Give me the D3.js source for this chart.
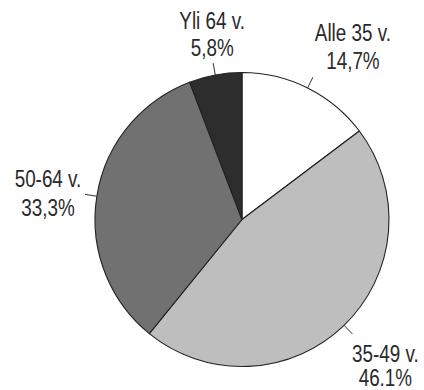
<!DOCTYPE html>
<html>
<head>
<meta charset="utf-8">
<script src="https://cdn.jsdelivr.net/npm/d3@7"></script>
<style>
  html, body { margin: 0; padding: 0; background: #fff; }
  svg { display: block; }
  text { font-family: "Liberation Sans", Arial, sans-serif; fill: #2a2a2a; }
</style>
</head>
<body>
<svg id="chart" width="424" height="390"></svg>
<script>
// Age groups and their shares (%), clockwise from 12 o'clock
const groups = ["Alle 35 v.", "35-49 v.", "50-64 v.", "Yli 64 v."];
const shares = [14.7, 46.1, 33.3, 5.8];
const shareLabels = ["14,7%", "46.1%", "33,3%", "5,8%"];

// Halftone-like fills: [dot colour, paper colour]
const tones = [
  ["#ffffff", "#ffffff"],
  ["#a4a4a4", "#d8d8d8"],
  ["#4e4e4e", "#949494"],
  ["#1e1e1e", "#3c3c3c"]
];

// Label placement relative to the end of each leader tick
const labelLayout = [
  { dx: 40, dy: -36, gap: 28 },
  { dx: 33, dy: 28, gap: 24 },
  { dx: -37, dy: -7, gap: 29 },
  { dx: -1, dy: -34, gap: 27 }
];

const svg = d3.select("#chart");
const cx = 242, cy = 219.5, R = 147;

// checkerboard patterns that imitate printed screening
const defs = svg.append("defs");
tones.forEach((t, i) => {
  const p = defs.append("pattern")
    .attr("id", "tone" + i)
    .attr("patternUnits", "userSpaceOnUse")
    .attr("width", 2).attr("height", 2);
  p.append("rect").attr("width", 2).attr("height", 2).attr("fill", t[1]);
  p.append("rect").attr("width", 1).attr("height", 1).attr("fill", t[0]);
  p.append("rect").attr("x", 1).attr("y", 1).attr("width", 1).attr("height", 1).attr("fill", t[0]);
});

const pie = d3.pie().sort(null).value(d => d.value);
const arcs = pie(groups.map((g, i) => ({ name: g, value: shares[i], label: shareLabels[i], i })));
const arc = d3.arc().innerRadius(0).outerRadius(R);

const g = svg.append("g").attr("transform", `translate(${cx},${cy})`);

g.selectAll("path.slice")
  .data(arcs)
  .join("path")
  .attr("class", "slice")
  .attr("d", arc)
  .attr("fill", d => `url(#tone${d.data.i})`)
  .attr("stroke", "#222")
  .attr("stroke-width", 1.1)
  .attr("stroke-linejoin", "round");

// leader ticks and condensed two-line labels
const polar = (a, r) => [Math.sin(a) * r, -Math.cos(a) * r];
arcs.forEach(d => {
  const mid = (d.startAngle + d.endAngle) / 2;
  const [x0, y0] = polar(mid, R);
  const [x1, y1] = polar(mid, R + 12);
  g.append("line")
    .attr("x1", x0).attr("y1", y0).attr("x2", x1).attr("y2", y1)
    .attr("stroke", "#333").attr("stroke-width", 1);
  const L = labelLayout[d.data.i];
  const t = g.append("text")
    .attr("text-anchor", "middle")
    .attr("font-size", 23)
    .attr("transform", `translate(${x1 + L.dx},${y1 + L.dy}) scale(0.82,1)`);
  t.append("tspan").attr("x", 0).attr("y", 0).text(d.data.name);
  t.append("tspan").attr("x", 0).attr("y", L.gap).text(d.data.label);
});
</script>
</body>
</html>
